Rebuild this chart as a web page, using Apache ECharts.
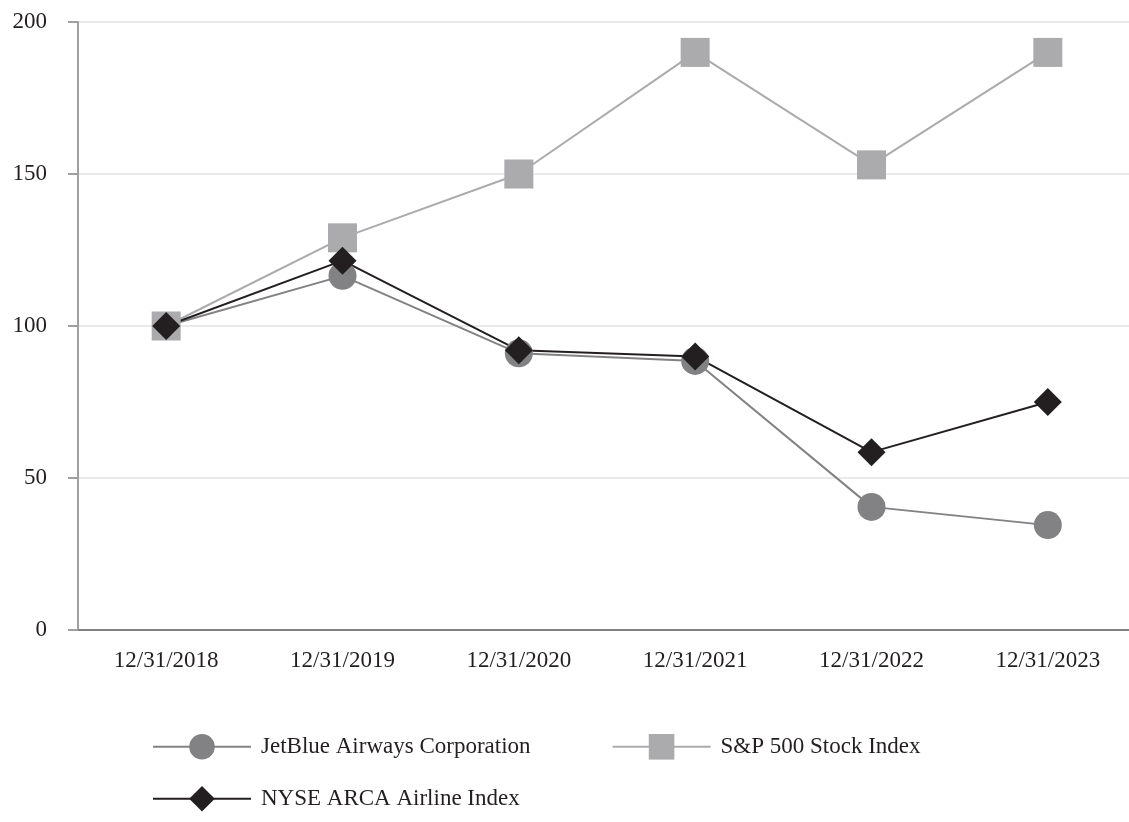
<!DOCTYPE html>
<html>
<head>
<meta charset="utf-8">
<script src="https://cdn.jsdelivr.net/npm/echarts@6/dist/echarts.min.js"></script>
<style>
html,body{margin:0;padding:0;background:#fff;}
#chart{width:1129px;height:822px;}
</style>
</head>
<body>
<div id="chart"></div>
<script>
const categories = ['12/31/2018','12/31/2019','12/31/2020','12/31/2021','12/31/2022','12/31/2023'];
const jetBlue = [100, 116.5, 91, 88.5, 40.5, 34.5];
const sp500 = [100, 129, 150, 190, 153, 190];
const nyseArca = [100, 121.5, 92, 90, 58.5, 75];
const yTicks = {min: 0, max: 200, interval: 50};

const chart = echarts.init(document.getElementById('chart'));
const font = '"Liberation Serif", "Times New Roman", serif';
const legendBase = {
  itemWidth: 98, itemHeight: 32, itemGap: 81, padding: 0,
  textStyle: {fontFamily: font, fontSize: 23, color: '#231F20', padding: [0,0,0,5]},
  selectedMode: false
};
chart.setOption({
  animation: false,
  textStyle: {fontFamily: font},
  grid: {left: 78, top: 22, width: 1058, height: 608, containLabel: false, outerBoundsMode: 'none'},
  legend: [
    Object.assign({}, legendBase, {left: 152, top: 734, data: ['JetBlue Airways Corporation','S&P 500 Stock Index']}),
    Object.assign({}, legendBase, {left: 152, top: 786, data: ['NYSE ARCA Airline Index']})
  ],
  xAxis: {
    type: 'category', data: categories, boundaryGap: true,
    axisLine: {lineStyle: {color: '#808080', width: 2}},
    axisTick: {alignWithLabel: true, length: 10, lineStyle: {color: '#a0a0a0', width: 2}},
    axisLabel: {fontFamily: font, fontSize: 23, color: '#231F20', margin: 19}
  },
  yAxis: {
    type: 'value', min: yTicks.min, max: yTicks.max, interval: yTicks.interval,
    axisLine: {show: true, lineStyle: {color: '#a0a0a0', width: 2}},
    axisTick: {show: true, length: 10, lineStyle: {color: '#a0a0a0', width: 2}},
    axisLabel: {fontFamily: font, fontSize: 23, color: '#231F20', margin: 31},
    splitLine: {lineStyle: {color: '#e3e3e3', width: 1.5}}
  },
  series: [
    {name: 'JetBlue Airways Corporation', type: 'line', data: jetBlue,
     symbol: 'circle', symbolSize: 28,
     itemStyle: {color: '#828285'}, lineStyle: {color: '#828285', width: 2}},
    {name: 'S&P 500 Stock Index', type: 'line', data: sp500,
     symbol: 'rect', symbolSize: 29,
     itemStyle: {color: '#ABABAE'}, lineStyle: {color: '#ABABAE', width: 2}},
    {name: 'NYSE ARCA Airline Index', type: 'line', data: nyseArca,
     symbol: 'diamond', symbolSize: 28,
     itemStyle: {color: '#231F20'}, lineStyle: {color: '#231F20', width: 2}}
  ]
});
</script>
</body>
</html>
